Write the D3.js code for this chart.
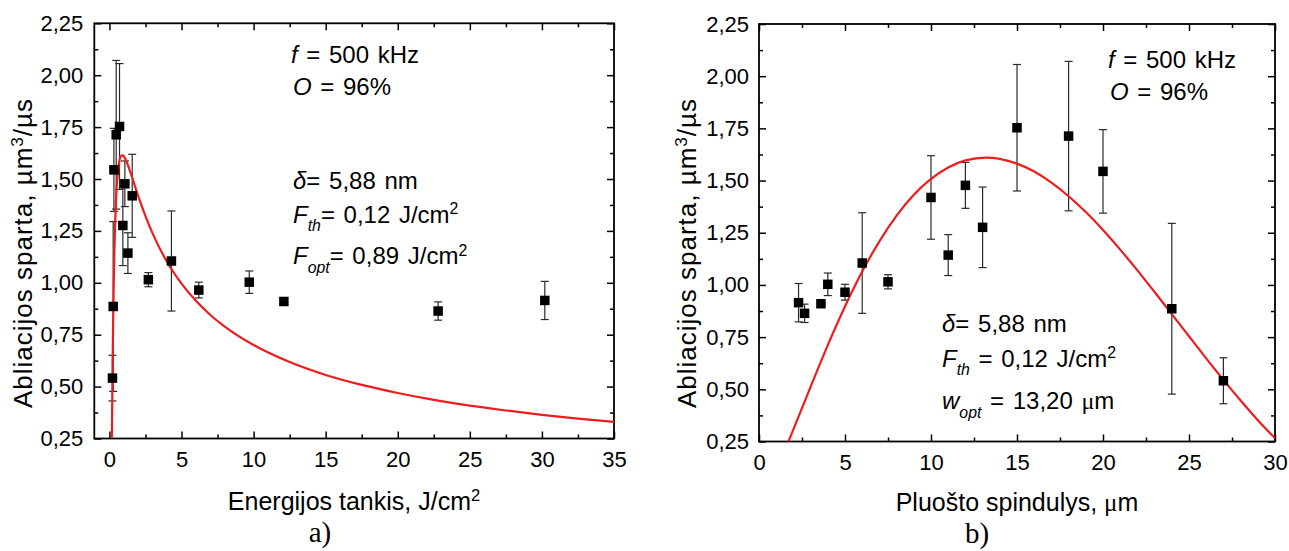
<!DOCTYPE html>
<html>
<head>
<meta charset="utf-8">
<script src="https://cdn.jsdelivr.net/npm/d3@7"></script>
<style>
  body { margin: 0; background: #fff; }
  svg { display: block; font-family: "Liberation Sans", Arial, sans-serif; }
</style>
</head>
<body>
<svg id="fig" width="1289" height="551"></svg>
<script>
// Measured ablation rate (µm³/µs) with its spread, at each beam radius and the matching fluence
const beamRadius = [2.3, 2.65, 3.6, 4, 5, 6, 7.5, 10, 11, 12, 13, 15, 18, 20, 24, 27];
const fluence    = [30.2, 22.8, 12.1, 9.7, 6.2, 4.3, 2.7, 1.58, 1.28, 1.07, 0.93, 0.70, 0.47, 0.31, 0.26, 0.21];
const rate       = [0.915, 0.864, 0.91, 1.003, 0.965, 1.105, 1.015, 1.419, 1.143, 1.477, 1.276, 1.753, 1.713, 1.544, 0.886, 0.541];
const rateErr    = [0.092, 0.044, 0.015, 0.054, 0.038, 0.241, 0.034, 0.20, 0.098, 0.11, 0.193, 0.303, 0.358, 0.20, 0.409, 0.11];

// Model curve vs fluence (panel a)
const fitFluence     = [0.17, 0.18, 0.2, 0.22, 0.25, 0.3, 0.35, 0.4, 0.45, 0.5, 0.6, 0.7, 0.8, 0.89, 1.0, 1.2, 1.5, 2, 2.5, 3, 4, 5, 6, 7, 8, 10, 12.5, 15, 17.5, 20, 22.5, 25, 27.5, 30, 32.5, 35];
const fitRateFluence = [0.255, 0.327, 0.467, 0.598, 0.772, 1.002, 1.172, 1.298, 1.390, 1.458, 1.545, 1.591, 1.611, 1.614, 1.610, 1.582, 1.523, 1.417, 1.321, 1.237, 1.100, 0.996, 0.913, 0.845, 0.789, 0.700, 0.618, 0.556, 0.508, 0.469, 0.436, 0.408, 0.385, 0.364, 0.346, 0.330];

// Model curve vs beam radius (panel b)
const fitRadius     = [1.7, 2, 3, 4, 5, 6, 7, 8, 9, 10, 11, 12, 13.2, 14, 15, 16, 17, 18, 19, 20, 21, 22, 23, 24, 25, 26, 27, 28, 29, 30];
const fitRateRadius = [0.248, 0.308, 0.512, 0.712, 0.897, 1.064, 1.209, 1.332, 1.432, 1.508, 1.563, 1.597, 1.610, 1.604, 1.581, 1.543, 1.490, 1.425, 1.349, 1.263, 1.169, 1.070, 0.966, 0.860, 0.754, 0.648, 0.545, 0.446, 0.352, 0.266];

// Tick positions
const fluenceTicks = [0, 5, 10, 15, 20, 25, 30, 35];
const fluenceMinor = [2.5, 7.5, 12.5, 17.5, 22.5, 27.5, 32.5];
const radiusTicks  = [0, 5, 10, 15, 20, 25, 30];
const radiusMinor  = [2.5, 7.5, 12.5, 17.5, 22.5, 27.5];
const rateTicks    = [0.25, 0.5, 0.75, 1.0, 1.25, 1.5, 1.75, 2.0, 2.25];
const rateMinor    = [0.375, 0.625, 0.875, 1.125, 1.375, 1.625, 1.875, 2.125];

const lt = d3.formatLocale({ decimal: ",", thousands: " ", grouping: [3], currency: ["", ""] });
const fmtRate = lt.format(".2f");
const fmtInt = lt.format("d");

const svg = d3.select("#fig");
const SERIF = "'Liberation Serif', 'Times New Roman', serif";

// Text with italic / subscript / superscript runs
function rich(parent, x, y, size, parts, anchor) {
  const t = parent.append("text").attr("x", x).attr("y", y)
    .attr("font-size", size).attr("fill", "#000")
    .attr("text-anchor", anchor || "start");
  let shift = 0;
  parts.forEach(p => {
    const target = p.sub ? size * 0.36 : p.sup ? -size * 0.36 : 0;
    const ts = t.append("tspan").text(p.t).attr("dy", target - shift);
    shift = target;
    if (p.sub || p.sup) ts.attr("font-size", size * 0.66);
    if (p.it) ts.attr("font-style", "italic");
    if (p.serif) ts.attr("font-family", SERIF);
  });
  return t;
}

function styleAxis(sel, withText) {
  sel.select(".domain").remove();
  sel.selectAll(".tick line").attr("stroke", "#000").attr("stroke-width", 1.5);
  if (withText) {
    sel.attr("font-size", 22).attr("font-family", null);
    sel.selectAll("text").attr("fill", "#000");
  } else {
    sel.selectAll("text").remove();
  }
}

function panel(o) {
  const g = svg.append("g");
  const x = d3.scaleLinear().domain(o.xDomain).range([o.left, o.right]);
  const y = d3.scaleLinear().domain([0.25, 2.25]).range([o.bottom, o.top]);

  g.append("clipPath").attr("id", o.id).append("rect")
    .attr("x", o.left).attr("y", o.top)
    .attr("width", o.right - o.left).attr("height", o.bottom - o.top);

  // Axes: major and minor ticks on all four sides, pointing inward
  const maj = 7, min = 4;
  g.append("g").attr("transform", `translate(0,${o.bottom})`)
    .call(d3.axisBottom(x).tickValues(o.xTicks).tickFormat(fmtInt).tickSize(-maj).tickPadding(12.5))
    .call(s => styleAxis(s, true));
  g.append("g").attr("transform", `translate(0,${o.bottom})`)
    .call(d3.axisBottom(x).tickValues(o.xMinor).tickSize(-min))
    .call(s => styleAxis(s, false));
  g.append("g").attr("transform", `translate(0,${o.top})`)
    .call(d3.axisTop(x).tickValues(o.xTicks).tickSize(-maj))
    .call(s => styleAxis(s, false));
  g.append("g").attr("transform", `translate(0,${o.top})`)
    .call(d3.axisTop(x).tickValues(o.xMinor).tickSize(-min))
    .call(s => styleAxis(s, false));
  g.append("g").attr("transform", `translate(${o.left},0)`)
    .call(d3.axisLeft(y).tickValues(rateTicks).tickFormat(fmtRate).tickSize(-maj).tickPadding(o.yPad))
    .call(s => styleAxis(s, true));
  g.append("g").attr("transform", `translate(${o.left},0)`)
    .call(d3.axisLeft(y).tickValues(rateMinor).tickSize(-min))
    .call(s => styleAxis(s, false));
  g.append("g").attr("transform", `translate(${o.right},0)`)
    .call(d3.axisRight(y).tickValues(rateTicks).tickSize(-maj))
    .call(s => styleAxis(s, false));
  g.append("g").attr("transform", `translate(${o.right},0)`)
    .call(d3.axisRight(y).tickValues(rateMinor).tickSize(-min))
    .call(s => styleAxis(s, false));

  // Frame
  g.append("rect")
    .attr("x", o.left).attr("y", o.top)
    .attr("width", o.right - o.left).attr("height", o.bottom - o.top)
    .attr("fill", "none").attr("stroke", "#000").attr("stroke-width", 1.8);

  // Error bars
  const pts = o.xs.map((v, i) => ({ x: v, y: rate[i], e: rateErr[i] }));
  const eb = g.append("g").attr("stroke", "#2a2a2a").attr("stroke-width", 1.2);
  pts.forEach(p => {
    const cx = x(p.x), y0 = y(p.y - p.e), y1 = y(p.y + p.e);
    eb.append("line").attr("x1", cx).attr("x2", cx).attr("y1", y0).attr("y2", y1);
    eb.append("line").attr("x1", cx - 4).attr("x2", cx + 4).attr("y1", y0).attr("y2", y0);
    eb.append("line").attr("x1", cx - 4).attr("x2", cx + 4).attr("y1", y1).attr("y2", y1);
  });

  // Model curve
  const line = d3.line().x(d => x(d[0])).y(d => y(d[1])).curve(d3.curveMonotoneX);
  g.append("path")
    .datum(o.fitX.map((v, i) => [v, o.fitY[i]]))
    .attr("clip-path", `url(#${o.id})`)
    .attr("d", line)
    .attr("fill", "none").attr("stroke", "#ee1c1c").attr("stroke-width", 2.2);

  // Markers
  const sz = 9.5;
  g.append("g").selectAll("rect").data(pts).join("rect")
    .attr("x", d => x(d.x) - sz / 2).attr("y", d => y(d.y) - sz / 2)
    .attr("width", sz).attr("height", sz).attr("fill", "#000");

  return { g, x, y };
}

// Panel a: rate vs fluence
panel({
  id: "clipA", left: 94.3, right: 614, top: 23.3, bottom: 438.5,
  xDomain: [-1.05, 35], xTicks: fluenceTicks, xMinor: fluenceMinor, yPad: 11,
  xs: fluence, fitX: fitFluence, fitY: fitRateFluence
});

// Panel b: rate vs beam radius
panel({
  id: "clipB", left: 759, right: 1275, top: 24, bottom: 441.5,
  xDomain: [0, 30], xTicks: radiusTicks, xMinor: radiusMinor, yPad: 10,
  xs: beamRadius, fitX: fitRadius, fitY: fitRateRadius
});

// Axis titles
const yTitle = [
  { t: "Abliacijos sparta, µm" }, { t: "3", sup: true }, { t: "/µs" }
];
rich(svg.append("g").attr("transform", "translate(32,253) rotate(-90)"), 0, 0, 26, yTitle, "middle")
  .attr("letter-spacing", 1);
rich(svg.append("g").attr("transform", "translate(696,253) rotate(-90)"), 0, 0, 26, yTitle, "middle")
  .attr("letter-spacing", 1);

rich(svg, 354, 509.5, 25, [{ t: "Energijos tankis, J/cm" }, { t: "2", sup: true }], "middle");
rich(svg, 1017, 510.5, 25, [{ t: "Pluošto spindulys, " }, { t: "μ", serif: true }, { t: "m" }], "middle");

// Panel captions
svg.append("text").attr("x", 320).attr("y", 542).attr("text-anchor", "middle")
  .attr("font-family", SERIF).attr("font-size", 29).text("a)");
svg.append("text").attr("x", 977).attr("y", 543).attr("text-anchor", "middle")
  .attr("font-family", SERIF).attr("font-size", 29).text("b)");

// Annotations, panel a
const fs = 24;
const ann = svg.append("g").attr("word-spacing", 2);
rich(ann, 291, 63, fs, [{ t: "f", it: true }, { t: " = 500 kHz" }]);
rich(ann, 293, 95, fs, [{ t: "O", it: true }, { t: " = 96%" }]);
rich(ann, 293, 188.5, fs, [{ t: "δ", it: true }, { t: "= 5,88 nm" }]);
rich(ann, 293, 222.7, fs, [{ t: "F", it: true }, { t: "th", it: true, sub: true }, { t: "= 0,12 J/cm" }, { t: "2", sup: true }]);
rich(ann, 293, 264.3, fs, [{ t: "F", it: true }, { t: "opt", it: true, sub: true }, { t: "= 0,89 J/cm" }, { t: "2", sup: true }]);

// Annotations, panel b
rich(ann, 1108, 68, fs, [{ t: "f", it: true }, { t: " = 500 kHz" }]);
rich(ann, 1110, 99.5, fs, [{ t: "O", it: true }, { t: " = 96%" }]);
rich(ann, 942, 332, fs, [{ t: "δ", it: true }, { t: "= 5,88 nm" }]);
rich(ann, 942, 366.7, fs, [{ t: "F", it: true }, { t: "th", it: true, sub: true }, { t: " = 0,12 J/cm" }, { t: "2", sup: true }]);
rich(ann, 942, 409.3, fs, [{ t: "w", it: true }, { t: "opt", it: true, sub: true }, { t: " = 13,20 " }, { t: "μ", serif: true }, { t: "m" }]);
</script>
</body>
</html>
